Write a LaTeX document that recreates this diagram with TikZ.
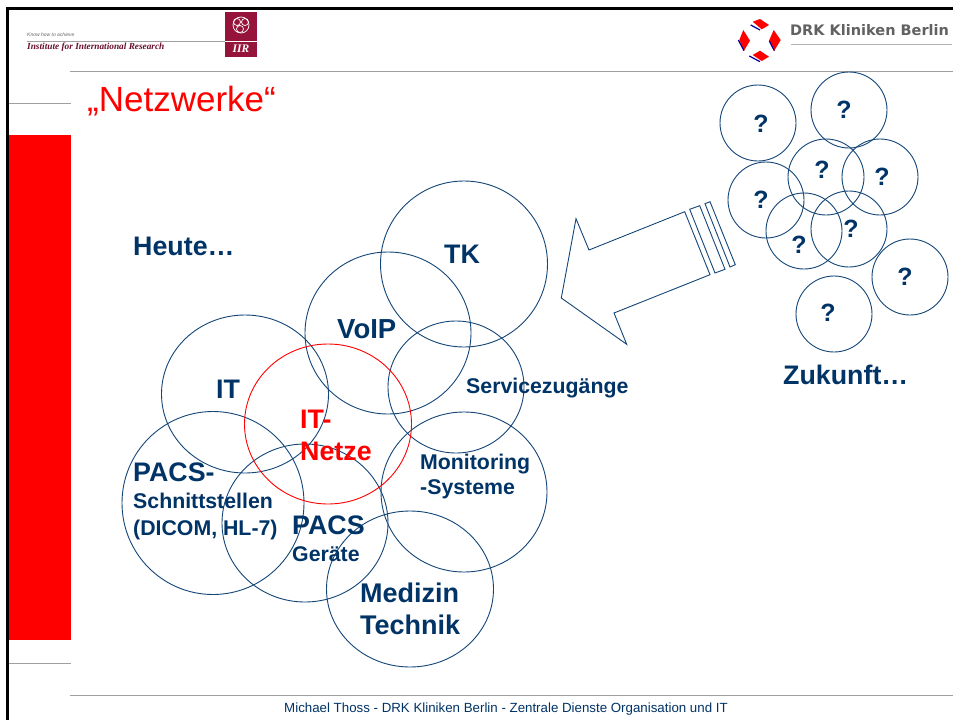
\documentclass[tikz,border=0pt]{standalone}
\usepackage{fontspec}
\setmainfont{Liberation Sans}
\definecolor{navy}{RGB}{0,51,102}
\definecolor{ringc}{RGB}{20,70,120}
\definecolor{iirc}{RGB}{150,20,60}
\definecolor{greyl}{RGB}{160,160,160}
\begin{document}
\begin{tikzpicture}[x=1pt,y=-1pt,
  ring/.style={draw=ringc,line width=.9pt},
  redring/.style={draw=red,line width=.9pt},
  rule/.style={draw=greyl,line width=1pt},
  lab/.style={text=navy,font=\bfseries\fontsize{26.8}{28}\selectfont,inner sep=0pt,align=left},
  labs/.style={text=navy,font=\bfseries\fontsize{21.3}{25}\selectfont,inner sep=0pt,align=left}]
\useasboundingbox (0,0) rectangle (953,720);
\fill[white] (0,0) rectangle (953,720);
% frame
\draw[black,line width=2.6pt] (7.5,720) -- (7.5,8.5) -- (953,8.5);
% red bar
\fill[red] (9,135) rectangle (71,640);
% rules
\draw[rule] (70,71) -- (953,71);
\draw[rule] (9,103) -- (71,103);
\draw[rule] (9,663) -- (71,663);
\draw[rule] (70,695) -- (953,695);
% IIR logo
\draw[greyl,line width=.7pt] (27,41) -- (225,41);
\node[anchor=west,inner sep=0pt,text=black!60,font=\itshape\fontsize{5}{6}\selectfont] (iirtop) at (27,35) {Know how to achieve};
\node[anchor=west,inner sep=0pt,text=iirc!70!black,font=\fontspec{Liberation Serif}\bfseries\itshape\fontsize{9.3}{11}\selectfont] (iirname) at (27,47) {Institute for International Research};
\fill[iirc] (225,11.5) rectangle (257,57);
\draw[white,line width=.6pt] (225,41.5) -- (257,41.5);
\draw[white,line width=.7pt] (241,25) circle (8);
\draw[white,line width=.7pt] (237,22) circle (3.5) (245,22) circle (3.5) (240,29) circle (3.5);
\node[text=white,inner sep=0pt,font=\fontspec{Liberation Serif}\bfseries\itshape\fontsize{11.5}{12}\selectfont] (iirlogo) at (241,49) {IIR};
% DRK logo
\fill[red] (752.7,21.7) -- (760,19) -- (769,25) -- (761.7,29.3) -- cycle;
\fill[red] (773.7,30) -- (780.7,40) -- (774.3,50.7) -- (769,40.7) -- cycle;
\fill[red] (752.7,55) -- (760,50.7) -- (769,56.7) -- (761.7,61) -- cycle;
\fill[red] (743.3,30) -- (750,40.7) -- (744,50.7) -- (739.3,40) -- cycle;
\draw[blue!60!black,line width=1.2pt] (750.7,25) -- (760,30);
\draw[blue!60!black,line width=1.2pt] (769.3,41) -- (774.3,50.7);
\draw[blue!60!black,line width=1.2pt] (749.3,56) -- (760,61.7);
\draw[blue!60!black,line width=1.2pt] (738.3,40) -- (744,50.7);
\node[anchor=west,inner sep=0pt,text=black!62,font=\fontspec{DejaVu Sans}\bfseries\fontsize{14.5}{16}\selectfont] (drk) at (790,30) {DRK Kliniken Berlin};
\draw[black!30,line width=1.6pt] (791,44.5) -- (952,44.5);
% title
\node[anchor=base west,inner sep=0pt,text=red,font=\fontsize{35}{38}\selectfont] (title) at (87,111) {„Netzwerke“};
% arrow
\draw[ring] (684.7,211.7) -- (589,250) -- (576,218.7) -- (561.3,298) -- (626.7,344.3) -- (614,313) -- (710,274.7) -- cycle;
\draw[ring] (689.7,209.3) -- (699.7,205.7) -- (725,269.3) -- (715,273) -- cycle;
\draw[ring] (705,203.7) -- (710,201.7) -- (735.3,264.7) -- (730,267) -- cycle;
% big rings
\draw[ring] (464,264) ellipse (83.5 and 83);
\draw[ring] (388,333) ellipse (83 and 81);
\draw[ring] (245,394) ellipse (83.5 and 79);
\draw[ring] (456,387) ellipse (68 and 66);
\draw[ring] (464,492) ellipse (83 and 80);
\draw[ring] (213,503) ellipse (91 and 91.5);
\draw[ring] (305,523) ellipse (83 and 79);
\draw[ring] (410,589) ellipse (83.5 and 78);
\draw[redring] (328,424) ellipse (83.5 and 80);
% small rings
\draw[ring] (758,123) circle (38);
\draw[ring] (849,110) circle (38);
\draw[ring] (826,177) circle (38);
\draw[ring] (880,177) circle (38);
\draw[ring] (766,200) circle (38);
\draw[ring] (804,231) circle (38);
\draw[ring] (849,229) circle (38);
\draw[ring] (910,277) circle (38);
\draw[ring] (834,314) circle (38);
% labels
\node[lab,anchor=base west] (heute) at (133,255) {Heute…};
\node[lab,anchor=base west] (zukunft) at (783,384) {Zukunft…};
\node[lab,anchor=base west] (tk) at (444,263) {TK};
\node[lab,anchor=base west,font=\bfseries\fontsize{27.5}{29}\selectfont] (voip) at (337,338) {VoIP};
\node[lab,anchor=base west] (it) at (216,398) {IT};
\node[labs,anchor=base west] (service) at (466,393) {Servicezugänge};
\node[labs,anchor=base west] (mon1) at (420,469) {Monitoring};
\node[labs,anchor=base west] (mon2) at (420,494) {-Systeme};
\node[lab,anchor=base west,text=red] (net1) at (300,428) {IT-};
\node[lab,anchor=base west,text=red] (net2) at (300,460) {Netze};
\node[lab,anchor=base west] (pl1) at (133,481) {PACS-};
\node[labs,anchor=base west] (pl2) at (133,508) {Schnittstellen};
\node[labs,anchor=base west] (pl3) at (133,535) {(DICOM, HL-7)};
\node[lab,anchor=base west] (pg1) at (292,534) {PACS};
\node[labs,anchor=base west] (pg2) at (292,561) {Geräte};
\node[lab,anchor=base west,font=\bfseries\fontsize{27}{29}\selectfont] (med1) at (360,602) {Medizin};
\node[lab,anchor=base west,font=\bfseries\fontsize{27}{29}\selectfont] (med2) at (360,634) {Technik};
\foreach \n/\x/\y in {a/761/124,b/844/110,c/822/170,d/882/177,e/761/200,f/799/245,g/851/229,h/905/277,i/828/313}
  \node[lab,inner sep=0pt,font=\bfseries\fontsize{25}{27}\selectfont] (q\n) at (\x,\y) {?};
% footer
\node[inner sep=0pt,text=navy,font=\fontsize{13.3}{15}\selectfont] (foot) at (506,709.5) {Michael Thoss - DRK Kliniken Berlin - Zentrale Dienste Organisation und IT};
\end{tikzpicture}
\end{document}
